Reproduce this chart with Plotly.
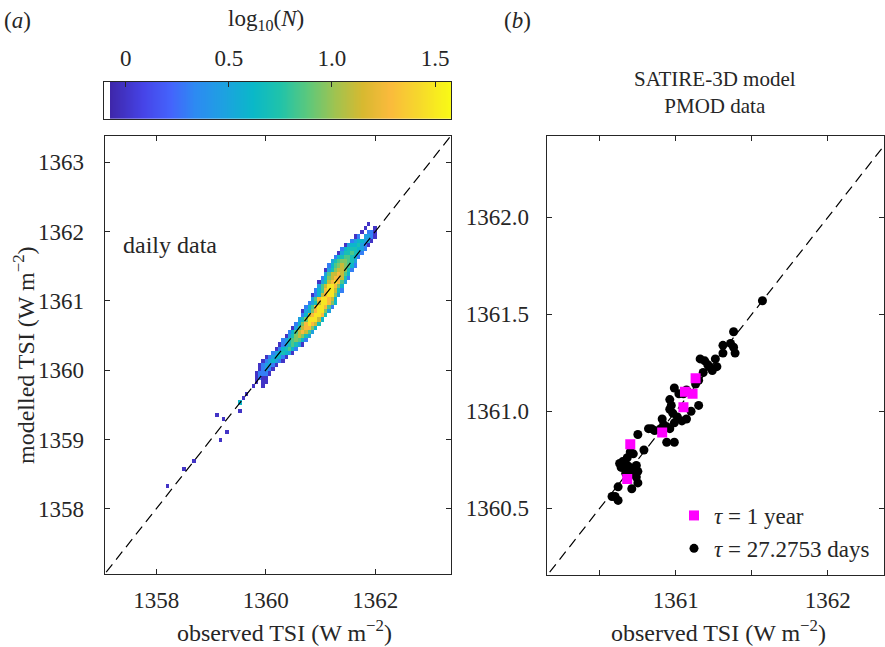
import numpy as np
import plotly.graph_objects as go

# ---------------- data ----------------
# panel (a): 2-D histogram of daily data (observed vs modelled TSI)
BIN = 0.06
ORIGIN = 1358.0
N_LEVELS = [1, 2, 3, 4, 5, 7, 9, 13, 19, 30]   # counts per level code 0..9

# (modelled-bin index, first observed-bin index, level codes; ' ' = empty)
BAND_ROWS = [
    (29, 29, "0  0"),
    (30, 30, "0 00"),
    (31, 30, "0100"),
    (32, 30, "01110"),
    (33, 31, "01210"),
    (34, 31, "012210"),
    (35, 32, "0123210"),
    (36, 33, "0123310"),
    (37, 35, "1234320"),
    (38, 36, "0134531"),
    (39, 37, "01245420"),
    (40, 38, "12456531"),
    (41, 39, "02467642"),
    (42, 40, "13578752"),
    (43, 41, "02578863"),
    (44, 42, "13689874"),
    (45, 43, "24699973"),
    (46, 44, "13789984"),
    (47, 44, "023689962"),
    (48, 45, "135899851"),
    (49, 46, "124799863"),
    (50, 47, "25899873"),
    (51, 47, "013789962"),
    (52, 48, "135899741"),
    (53, 49, "25799863"),
    (54, 49, "024789852"),
    (55, 50, "136788741"),
    (56, 51, "25778753"),
    (57, 51, "024677641"),
    (58, 52, "135676531"),
    (59, 53, "24566542"),
    (60, 54, "13455431"),
    (61, 55, "02445431"),
    (62, 56, "13444321"),
    (63, 57, "02334210"),
    (64, 59, "1233220"),
    (65, 60, "01 2210"),
    (66, 62, "0 110"),
    (67, 63, "0  0"),
    (68, 64, "0"),
]
# isolated low-count cells
OUT_OBS = [1358.22, 1358.51, 1358.68, 1359.17, 1359.32, 1359.11, 1359.22,
           1359.52, 1359.52, 1359.62, 1359.66]
OUT_MOD = [1358.31, 1358.56, 1358.66, 1359.01, 1359.11, 1359.36, 1359.32,
           1359.41, 1359.52, 1359.57, 1359.66]
OUT_LVL = [0, 0, 0, 0, 0, 0, 0, 0, 3, 0, 0]

# panel (b): SATIRE-3D model vs PMOD data
ROT_OBS = [1361.57, 1361.38, 1361.36, 1361.31, 1361.38, 1361.39, 1361.31, 1361.26,
           1361.27, 1361.24, 1361.22, 1361.16, 1361.19, 1361.21, 1361.18, 1361.15,
           1361.13, 1361.15, 1361.10, 1361.07, 1361.04, 1361.01, 1360.98, 1360.97,
           1360.96, 1360.99, 1361.02, 1361.05, 1361.07, 1360.96, 1360.94, 1360.91,
           1360.90, 1360.92, 1360.96, 1360.99, 1360.94, 1360.99, 1360.86, 1360.84,
           1360.82, 1360.75, 1360.79, 1360.70, 1360.72, 1360.68, 1360.63, 1360.65,
           1360.68, 1360.64, 1360.70, 1360.74, 1360.75, 1360.71, 1360.67, 1360.74,
           1360.75, 1360.71, 1360.62, 1360.60, 1360.62, 1360.58]
ROT_MOD = [1361.57, 1361.41, 1361.35, 1361.34, 1361.33, 1361.30, 1361.30, 1361.27,
           1361.23, 1361.21, 1361.23, 1361.27, 1361.26, 1361.24, 1361.20, 1361.16,
           1361.14, 1361.03, 1361.00, 1360.96, 1360.95, 1360.97, 1360.99, 1361.03,
           1361.06, 1361.12, 1361.09, 1361.09, 1361.11, 1361.01, 1360.92, 1360.96,
           1360.91, 1360.93, 1360.91, 1360.94, 1360.84, 1360.84, 1360.90, 1360.91,
           1360.91, 1360.88, 1360.80, 1360.79, 1360.78, 1360.76, 1360.73, 1360.74,
           1360.72, 1360.71, 1360.71, 1360.72, 1360.69, 1360.68, 1360.68, 1360.66,
           1360.63, 1360.60, 1360.61, 1360.56, 1360.54, 1360.56]
YEAR_OBS = [1361.13, 1361.06, 1361.11, 1361.05, 1360.91, 1360.70, 1360.68]
YEAR_MOD = [1361.17, 1361.10, 1361.09, 1361.02, 1360.89, 1360.83, 1360.65]

CB_TICKS = [0, 0.5, 1.0, 1.5]
CB_TICKTEXT = ["0", "0.5", "1.0", "1.5"]
CB_MIN, CB_MAX = -0.1035, 1.577

# ---------------- build histogram grid ----------------
NCELL = 72
z = np.full((NCELL, NCELL), np.nan)
for k, j0, s in BAND_ROWS:
    for i, ch in enumerate(s):
        if ch != " ":
            z[k, j0 + i] = np.log10(N_LEVELS[int(ch)])
for o, m, lv in zip(OUT_OBS, OUT_MOD, OUT_LVL):
    j = int(np.floor((o - ORIGIN) / BIN))
    k = int(np.floor((m - ORIGIN) / BIN))
    z[k, j] = np.log10(N_LEVELS[lv])
centers = ORIGIN + BIN * (np.arange(NCELL) + 0.5)

# white + parula-like colormap
par = [(0.00, (62, 38, 168)), (0.10, (70, 68, 232)), (0.18, (68, 100, 252)),
       (0.25, (45, 138, 242)), (0.33, (30, 160, 226)), (0.42, (10, 184, 200)),
       (0.50, (32, 195, 170)), (0.58, (92, 200, 124)), (0.66, (160, 195, 80)),
       (0.74, (215, 185, 48)), (0.82, (250, 186, 60)), (0.90, (246, 214, 45)),
       (1.00, (249, 251, 21))]
wfrac = 1.0 / 65
cscale = [[0.0, "rgb(255,255,255)"], [wfrac * 0.999, "rgb(255,255,255)"]]
for p, c in par:
    cscale.append([wfrac + (1 - wfrac) * p, "rgb(%d,%d,%d)" % c])

FONT = "Liberation Serif"
TXT = "#262626"
FS = 23      # tick labels
FL = 24      # axis labels

fig = go.Figure()

fig.add_trace(go.Heatmap(x=centers, y=centers, z=z, colorscale=cscale,
                         zmin=CB_MIN, zmax=CB_MAX, showscale=False,
                         xaxis="x", yaxis="y", hoverongaps=False))
fig.add_trace(go.Scatter(x=[1356, 1365], y=[1356, 1365], mode="lines",
                         line=dict(color="black", width=1.2, dash="10px,6px"),
                         xaxis="x", yaxis="y", showlegend=False))

# colour bar strip
ramp = np.linspace(CB_MIN, CB_MAX, 400)
fig.add_trace(go.Heatmap(x=ramp, y=[0.5], z=[ramp], colorscale=cscale,
                         zmin=CB_MIN, zmax=CB_MAX, showscale=False,
                         xaxis="x3", yaxis="y3"))

# panel b
fig.add_trace(go.Scatter(x=[1359, 1364], y=[1359, 1364], mode="lines",
                         line=dict(color="black", width=1.2, dash="10px,6px"),
                         xaxis="x2", yaxis="y2", showlegend=False))
fig.add_trace(go.Scatter(x=ROT_OBS, y=ROT_MOD, mode="markers",
                         marker=dict(color="black", size=9, symbol="circle"),
                         name="<i>τ</i> = 27.2753 days", xaxis="x2", yaxis="y2"))
fig.add_trace(go.Scatter(x=YEAR_OBS, y=YEAR_MOD, mode="markers",
                         marker=dict(color="#ff00ff", size=10, symbol="square"),
                         name="<i>τ</i> = 1 year", xaxis="x2", yaxis="y2"))

W, H = 885, 647
def px(x): return x / W
def py(y): return 1 - y / H

axis_common = dict(showline=True, linecolor=TXT, linewidth=1, mirror="ticks",
                   ticks="inside", ticklen=5, tickcolor=TXT, showgrid=False,
                   zeroline=False, tickfont=dict(family=FONT, size=FS, color=TXT))

fig.update_layout(
    width=W, height=H, margin=dict(l=0, r=0, t=0, b=0),
    paper_bgcolor="white", plot_bgcolor="white",
    font=dict(family=FONT, size=FS, color=TXT),
    xaxis=dict(domain=[px(104.7), px(450.7)], range=[1357.06, 1363.38],
               tickvals=[1358, 1360, 1362], anchor="y", ticklabelstandoff=5,
               **axis_common),
    yaxis=dict(domain=[py(574), py(136)], range=[1357.06, 1363.38],
               tickvals=[1358, 1359, 1360, 1361, 1362, 1363], anchor="x",
               ticklabelstandoff=15, **axis_common),
    xaxis2=dict(domain=[px(546.7), px(884)], range=[1360.15, 1362.37],
                tickvals=[1360.5, 1361, 1361.5, 1362],
                ticktext=[" ", "1361", " ", "1362"], anchor="y2",
                ticklabelstandoff=4, **axis_common),
    yaxis2=dict(domain=[py(575), py(136)], range=[1360.155, 1362.42],
                tickvals=[1360.5, 1361, 1361.5, 1362],
                ticktext=["1360.5", "1361.0", "1361.5", "1362.0"], anchor="x2",
                ticklabelstandoff=12, **axis_common),
    xaxis3=dict(domain=[px(104.3), px(451)], range=[CB_MIN, CB_MAX],
                tickvals=CB_TICKS, ticktext=CB_TICKTEXT, side="top",
                anchor="y3", showline=True, linecolor=TXT, linewidth=1,
                mirror=True, ticks="inside", ticklen=5, tickcolor=TXT,
                showgrid=False, zeroline=False, ticklabelstandoff=6,
                tickfont=dict(family=FONT, size=FS, color=TXT)),
    yaxis3=dict(domain=[py(119), py(81.7)], range=[0, 1], anchor="x3",
                showline=True, linecolor=TXT, linewidth=1, mirror=True,
                ticks="", showticklabels=False, showgrid=False, zeroline=False),
    legend=dict(x=px(674), y=py(494), xanchor="left", yanchor="top",
                traceorder="reversed", bgcolor="rgba(0,0,0,0)",
                font=dict(family=FONT, size=FS, color=TXT)),
    showlegend=True,
)

ann = [
    dict(text="(<i>a</i>)", x=px(17), y=py(20), size=FS),
    dict(text="(<i>b</i>)", x=px(517), y=py(20), size=FS),
    dict(text="log<sub>10</sub>(<i>N</i>)", x=px(266), y=py(20), size=FS),
    dict(text="SATIRE-3D model<br>PMOD data", x=px(715), y=py(93), size=21),
    dict(text="modelled TSI (W m<sup>−2</sup>)", x=px(24), y=py(355), size=FL,
         textangle=-90),
    dict(text="observed TSI (W m<sup>−2</sup>)", x=px(284), y=py(631), size=FL),
    dict(text="observed TSI (W m<sup>−2</sup>)", x=px(718), y=py(631), size=FL),
]
for a in ann:
    size = a.pop("size")
    fig.add_annotation(xref="paper", yref="paper", showarrow=False,
                       xanchor="center", yanchor="middle",
                       font=dict(family=FONT, size=size, color=TXT), **a)
fig.add_annotation(xref="paper", yref="paper", showarrow=False, text="daily data",
                   x=px(121), y=py(245), xanchor="left", yanchor="middle",
                   font=dict(family=FONT, size=FL, color=TXT))

fig.write_html("out.html", config={"displayModeBar": False},
               post_script="document.body.style.margin='0px';")
